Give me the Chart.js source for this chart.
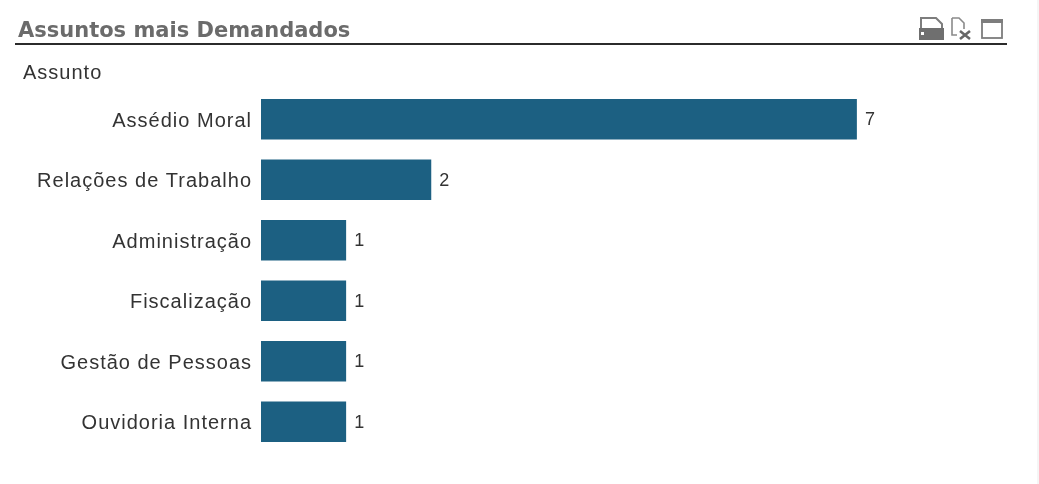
<!DOCTYPE html>
<html>
<head>
<meta charset="utf-8">
<title>Assuntos mais Demandados</title>
<script src="https://cdn.jsdelivr.net/npm/chart.js@4"></script>
<style>
  html, body { margin: 0; padding: 0; background: #fff; }
  #panel { position: relative; width: 1039px; height: 484px; overflow: hidden; font-family: "Liberation Sans", Arial, sans-serif; }
  #panel canvas { position: absolute; left: 0; top: 0; }
  #titulo { position: absolute; left: 18px; top: 18px; font-family: "DejaVu Sans", sans-serif; font-size: 21px; font-weight: bold; color: #6b6b6b; line-height: 24px; white-space: nowrap; }
  #linha { position: absolute; left: 15px; top: 43px; width: 992px; height: 2px; background: #2b2b2b; }
  #campo { position: absolute; left: 23px; top: 61px; font-size: 20px; color: #333; line-height: 22px; letter-spacing: 1px; }
  #borda { position: absolute; left: 1037px; top: 0; width: 2px; height: 484px; background: #f5f5f5; }
  #icones { position: absolute; left: 918px; top: 17px; }
</style>
</head>
<body>
<div id="panel">
  <canvas id="grafico" width="1039" height="484"></canvas>
  <div id="titulo">Assuntos mais Demandados</div>
  <div id="linha"></div>
  <div id="campo">Assunto</div>
  <div id="borda"></div>
  <!-- botões da barra: salvar, limpar, maximizar -->
  <svg id="icones" width="90" height="26" viewBox="0 0 90 26">
    <path d="M3 1 H18 L24 7 V12 H3 Z" fill="#fff" stroke="#7d7d7d" stroke-width="2"/>
    <rect x="1" y="11" width="25" height="12" fill="#6f6f6f"/>
    <rect x="3" y="15" width="3" height="3" fill="#fff"/>
    <path d="M34 1 H41 L46 6 V12 M34 1 V18 H39" fill="none" stroke="#8a8a8a" stroke-width="1.6"/>
    <path d="M42 14 L52 22 M52 14 L42 22" stroke="#666" stroke-width="2.6"/>
    <rect x="64" y="3" width="20" height="18" fill="#fff" stroke="#7d7d7d" stroke-width="1.8"/>
    <rect x="63" y="2" width="22" height="4" fill="#7d7d7d"/>
  </svg>
</div>
<script>
const assuntos = ['Assédio Moral', 'Relações de Trabalho', 'Administração', 'Fiscalização', 'Gestão de Pessoas', 'Ouvidoria Interna'];
const quantidades = [7, 2, 1, 1, 1, 1];

// espaçamento entre letras dos rótulos do eixo
const espacoLetras = {
  id: 'espacoLetras',
  beforeDraw(chart) { chart.ctx.letterSpacing = '1px'; }
};

// escreve o valor logo depois do fim de cada barra
const valoresNasBarras = {
  id: 'valoresNasBarras',
  afterDatasetsDraw(chart) {
    const ctx = chart.ctx;
    ctx.save();
    ctx.font = '18px "Liberation Sans", Arial, sans-serif';
    ctx.fillStyle = '#333';
    ctx.textAlign = 'left';
    ctx.textBaseline = 'middle';
    chart.getDatasetMeta(0).data.forEach((bar, i) => {
      ctx.fillText(quantidades[i], bar.x + 8, bar.y + 1);
    });
    ctx.restore();
  }
};

new Chart(document.getElementById('grafico').getContext('2d'), {
  type: 'bar',
  data: {
    labels: assuntos,
    datasets: [{
      data: quantidades,
      backgroundColor: '#1c6082',
      barPercentage: 0.67,
      categoryPercentage: 1
    }]
  },
  options: {
    indexAxis: 'y',
    responsive: false,
    animation: false,
    layout: { padding: { top: 89, bottom: 32, right: 97, left: 0 } },
    plugins: { legend: { display: false }, tooltip: { enabled: false } },
    scales: {
      x: { display: false, min: 0, max: 8 },
      y: {
        afterFit(scale) { scale.width = 261; },
        grid: { display: false },
        border: { display: false },
        ticks: {
          color: '#333',
          padding: 1,
          labelOffset: 2,
          font: { family: '"Liberation Sans", Arial, sans-serif', size: 20 }
        }
      }
    }
  },
  plugins: [espacoLetras, valoresNasBarras]
});
</script>
</body>
</html>
